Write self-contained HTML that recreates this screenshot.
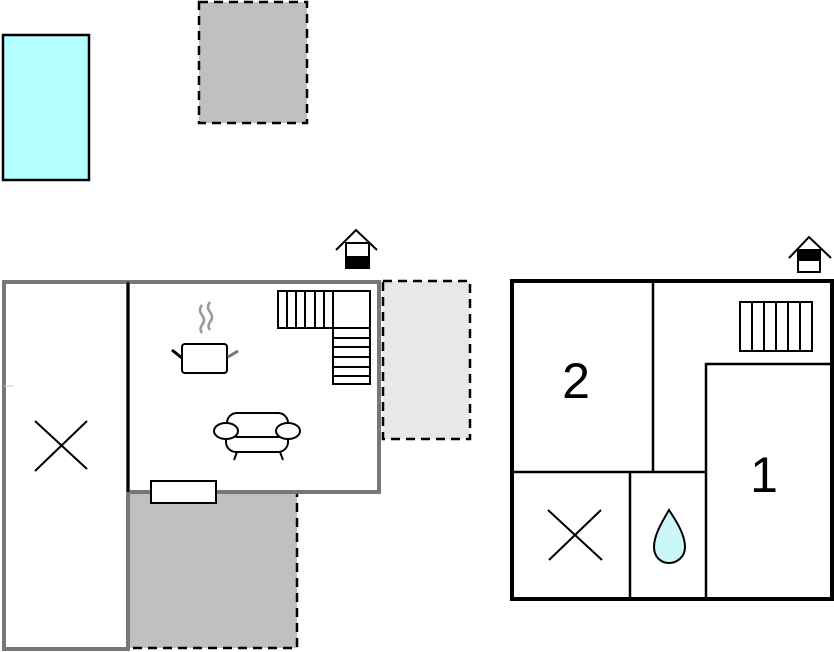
<!DOCTYPE html>
<html><head><meta charset="utf-8"><style>html,body{margin:0;padding:0;background:#fff;}svg{display:block}</style></head>
<body>
<svg width="834" height="652" viewBox="0 0 834 652" xmlns="http://www.w3.org/2000/svg" font-family="Liberation Sans, sans-serif">
<!-- top shapes -->
<rect x="3" y="35" width="86" height="145" fill="#b3ffff" stroke="#000" stroke-width="2.5"/>
<rect x="199" y="2" width="108" height="121" fill="#c0c0c0" stroke="#000" stroke-width="2.5" stroke-dasharray="9,6"/>

<!-- left building -->
<rect x="383" y="281" width="87" height="158" fill="#e8e8e8" stroke="#000" stroke-width="2.5" stroke-dasharray="9,6"/>
<rect x="128" y="492" width="169" height="156" fill="#c0c0c0" stroke="#000" stroke-width="2.5" stroke-dasharray="9,6"/>
<rect x="4" y="282" width="124" height="367" fill="#fff" stroke="#777" stroke-width="4"/>
<rect x="128" y="282" width="251" height="210" fill="#fff" stroke="#777" stroke-width="4"/>
<line x1="128" y1="282" x2="128" y2="492" stroke="#000" stroke-width="2.5"/>
<line x1="4" y1="386" x2="14" y2="386" stroke="#ccc" stroke-width="1"/>
<line x1="35" y1="421" x2="87" y2="469" stroke="#000" stroke-width="2"/>
<line x1="87" y1="421" x2="35" y2="471" stroke="#000" stroke-width="2"/>
<rect x="151" y="481" width="65" height="22" fill="#fff" stroke="#000" stroke-width="2"/>

<!-- stairs left -->
<g fill="#fff" stroke="#000" stroke-width="2">
<rect x="278" y="291" width="92" height="37"/>
<rect x="333" y="328" width="37" height="56"/>
<path d="M287 291V328M296 291V328M305 291V328M315 291V328M324 291V328M333 291V328M333 338H370M333 347H370M333 357H370M333 367H370M333 376H370" fill="none"/>
</g>

<!-- pot -->
<path d="M202 305 q-4 5 0 10 q4 5 0 10 q-3 4 0 8" fill="none" stroke="#999" stroke-width="2.5"/>
<path d="M210 302 q-4 5 0 10 q4 5 0 10 q-3 4 0 8" fill="none" stroke="#999" stroke-width="2.5"/>
<rect x="182" y="344" width="45" height="29" rx="3" fill="#fff" stroke="#000" stroke-width="2"/>
<line x1="172" y1="350" x2="182" y2="358" stroke="#000" stroke-width="3"/>
<line x1="228" y1="357" x2="238" y2="351" stroke="#777" stroke-width="3"/>

<!-- sofa -->
<g fill="#fff" stroke="#000" stroke-width="2">
<line x1="237" y1="452" x2="234" y2="460"/>
<line x1="280" y1="452" x2="283" y2="460"/>
<rect x="226" y="428" width="62" height="24" rx="10"/>
<rect x="227" y="413" width="61" height="24" rx="10"/>
<ellipse cx="226" cy="431" rx="12" ry="8"/>
<ellipse cx="288" cy="431" rx="12" ry="8"/>
</g>

<!-- house icon 1 -->
<path d="M336 250 L356 230 L377 250" fill="none" stroke="#000" stroke-width="2"/>
<rect x="346" y="243" width="23" height="25" fill="#fff" stroke="#000" stroke-width="2"/>
<rect x="346" y="256" width="23" height="12" fill="#000"/>

<!-- right building -->
<rect x="512" y="281" width="320" height="318" fill="#fff" stroke="#000" stroke-width="4"/>
<g stroke="#000" stroke-width="2.5" fill="none">
<path d="M653 281V472M512 472H706M630 472V599M706 599V364H832"/>
</g>
<g fill="#fff" stroke="#000" stroke-width="2">
<rect x="740" y="302" width="72" height="49"/>
<path d="M752 302V351M764 302V351M776 302V351M788 302V351M800 302V351" fill="none"/>
</g>
<text x="576" y="398" font-size="50" text-anchor="middle" fill="#000">2</text>
<text x="764" y="492" font-size="50" text-anchor="middle" fill="#000">1</text>
<line x1="548" y1="510" x2="602" y2="560" stroke="#000" stroke-width="2"/>
<line x1="601" y1="510" x2="549" y2="560" stroke="#000" stroke-width="2"/>
<path d="M669 510 C662 522 654 535 654 547 C654 557 661 563 669 563 C677 563 685 557 685 547 C685 535 677 522 669 510 Z" fill="#ccf7fa" stroke="#000" stroke-width="2"/>

<!-- house icon 2 -->
<path d="M789 258 L809 237 L831 258" fill="none" stroke="#000" stroke-width="2"/>
<rect x="798" y="250" width="22" height="22" fill="#fff" stroke="#000" stroke-width="2"/>
<rect x="798" y="250" width="22" height="11" fill="#000"/>
</svg>
</body></html>
